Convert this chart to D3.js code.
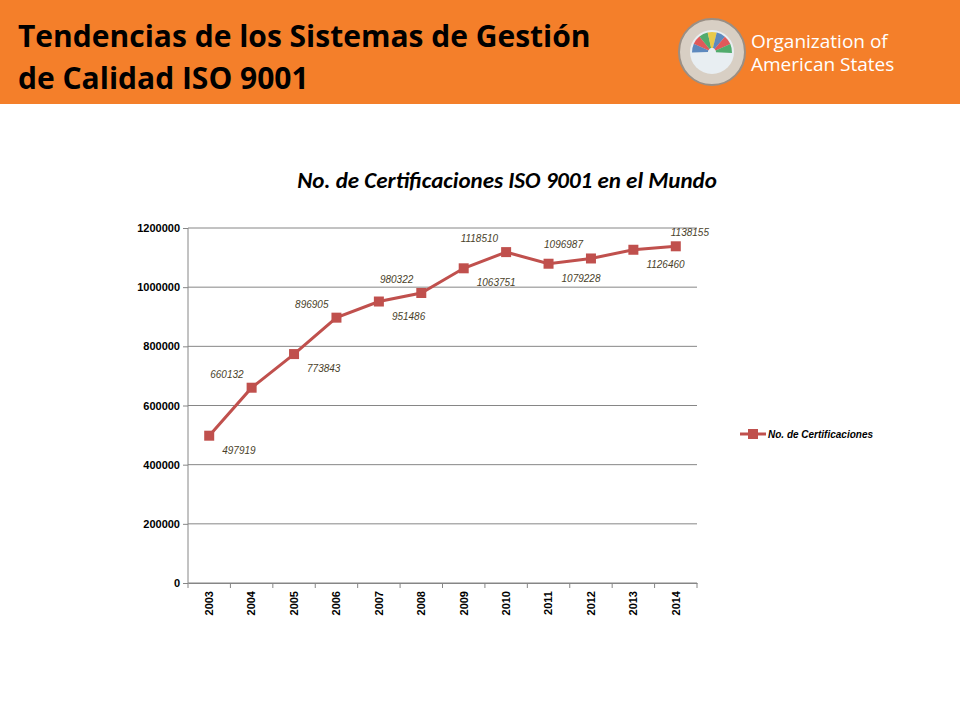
<!DOCTYPE html>
<html><head><meta charset="utf-8">
<script src="https://cdn.jsdelivr.net/npm/d3@7"></script>
<style>body{margin:0;background:#fff;font-family:Carlito,"Open Sans",sans-serif}</style>
</head><body><svg id="c" width="960" height="720"></svg>
<script>
const years=["2003","2004","2005","2006","2007","2008","2009","2010","2011","2012","2013","2014"];
const values=[497919,660132,773843,896905,951486,980322,1063751,1118510,1079228,1096987,1126460,1138155];
const labelSide=["below","above","below","above","below","above","below","above","below","above","below","aboveR"];
const yTicks=[0,200000,400000,600000,800000,1000000,1200000];
const seriesName="No. de Certificaciones";
const svg=d3.select("#c");
svg.append("rect").attr("width",960).attr("height",104).attr("fill","#F47F2A");
const tf="'Open Sans',sans-serif";
svg.append("text").attr("x",18).attr("y",47).attr("font-size",30).attr("font-weight","bold").attr("font-family",tf).attr("fill","#000").text("Tendencias de los Sistemas de Gestión");
svg.append("text").attr("x",18).attr("y",89).attr("font-size",30).attr("font-weight","bold").attr("font-family",tf).attr("fill","#000").text("de Calidad ISO 9001");
// logo
const lg=svg.append("g").attr("transform","translate(712,52)");
lg.append("circle").attr("r",33).attr("fill","#d8cfc4").attr("stroke","#9a8f85").attr("stroke-width",2);
lg.append("circle").attr("r",22).attr("fill","#e8eef2");
const cols=["#3a6fb0","#d33","#2a9a4a","#e8c020","#3a6fb0","#d33","#2a9a4a"];
cols.forEach((c,i)=>lg.append("path").attr("d",d3.arc()({innerRadius:4,outerRadius:20,startAngle:-1.6+i*0.46,endAngle:-1.6+(i+1)*0.46})).attr("fill",c).attr("opacity",0.8));
svg.append("text").attr("x",751).attr("y",48).attr("font-size",19).attr("font-family",tf).attr("fill","#fff").text("Organization of");
svg.append("text").attr("x",751).attr("y",71).attr("font-size",19).attr("font-family",tf).attr("fill","#fff").text("American States");
// title
svg.append("text").attr("x",507).attr("y",188).attr("text-anchor","middle").attr("font-size",23).attr("font-weight","bold").attr("font-style","italic").text("No. de Certificaciones ISO 9001 en el Mundo");
const x=d3.scaleBand().domain(years).range([188,697]);
const y=d3.scaleLinear().domain([0,1200000]).range([583,228]);
const g=svg.append("g");
g.selectAll(".gl").data(yTicks).join("line").attr("x1",188).attr("x2",697).attr("y1",d=>y(d)).attr("y2",d=>y(d)).attr("stroke","#868686");
g.append("line").attr("x1",188).attr("x2",188).attr("y1",228).attr("y2",583).attr("stroke","#868686");
const ya=g.append("g").attr("transform","translate(188,0)").call(d3.axisLeft(y).tickValues(yTicks).tickSize(5).tickFormat(d3.format("d")));
ya.select(".domain").remove();
ya.selectAll("line").attr("stroke","#868686");
ya.selectAll("text").attr("font-size",11).attr("font-weight","bold").attr("font-family","'Liberation Sans',sans-serif").attr("x",-8);
const xa=g.append("g").attr("transform","translate(0,583)").call(d3.axisBottom(x).tickSize(5).tickSizeOuter(0));
xa.select(".domain").attr("stroke","#868686");
xa.selectAll(".tick line").attr("transform",`translate(${x.bandwidth()/2},0)`).attr("stroke","#868686");
xa.append("line").attr("x1",188).attr("x2",188).attr("y1",0).attr("y2",5).attr("stroke","#868686");
xa.selectAll(".tick text").attr("font-size",11).attr("font-weight","bold").attr("font-family","'Liberation Sans',sans-serif").attr("transform","rotate(-90)").attr("text-anchor","end").attr("x",-8).attr("y",0).attr("dy","0.35em").attr("fill","#000");
const cx=(d,i)=>x(years[i])+x.bandwidth()/2;
g.append("path").attr("d",d3.line().x((d,i)=>cx(d,i)).y(d=>y(d))(values)).attr("fill","none").attr("stroke","#C0504D").attr("stroke-width",3);
g.selectAll(".m").data(values).join("rect").attr("x",(d,i)=>cx(d,i)-5).attr("y",d=>y(d)-5).attr("width",10).attr("height",10).attr("fill","#C0504D");
g.selectAll(".lb").data(values).join("text")
 .attr("x",(d,i)=>labelSide[i]==="below"?cx(d,i)+13:labelSide[i]==="aboveR"?cx(d,i)-5:cx(d,i)-8)
 .attr("y",(d,i)=>labelSide[i]==="below"?y(d)+18:y(d)-10)
 .attr("text-anchor",(d,i)=>labelSide[i]==="above"?"end":"start")
 .attr("font-size",10).attr("font-style","italic").attr("fill","#4a3f2a").attr("font-family","'Liberation Sans',sans-serif").text(d=>d);
// legend
svg.append("line").attr("x1",740).attr("x2",766).attr("y1",434).attr("y2",434).attr("stroke","#C0504D").attr("stroke-width",3);
svg.append("rect").attr("x",748).attr("y",429).attr("width",10).attr("height",10).attr("fill","#C0504D");
svg.append("text").attr("x",768).attr("y",438).attr("font-size",10).attr("font-weight","bold").attr("font-style","italic").attr("font-family","'Liberation Sans',sans-serif").text(seriesName);
</script></body></html>
